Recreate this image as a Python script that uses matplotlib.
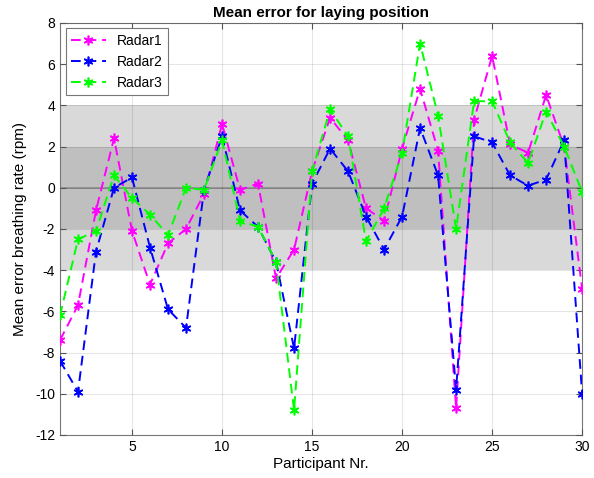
import numpy as np
import matplotlib.pyplot as plt

plt.rcParams['font.family'] = ['Liberation Sans', 'DejaVu Sans']
plt.rcParams['axes.unicode_minus'] = False

# data
participants = np.arange(1, 31)
radar1 = [-7.4, -5.7, -1.1, 2.4, -2.1, -4.7, -2.7, -2.0, -0.3, 3.1,
          -0.1, 0.2, -4.4, -3.0, 0.8, 3.4, 2.3, -1.0, -1.6, 1.9,
          4.8, 1.8, -10.7, 3.3, 6.4, 2.1, 1.7, 4.5, 2.0, -4.9]
radar2 = [-8.4, -9.9, -3.1, 0.0, 0.5, -2.9, -5.9, -6.8, -0.1, 2.5,
          -1.1, -1.9, -3.6, -7.8, 0.2, 1.9, 0.8, -1.4, -3.0, -1.4,
          2.9, 0.6, -9.8, 2.5, 2.2, 0.6, 0.1, 0.4, 2.3, -10.0]
radar3 = [-6.2, -2.5, -2.1, 0.6, -0.5, -1.3, -2.3, 0.0, -0.1, 2.3,
          -1.6, -1.9, -3.6, -10.8, 0.8, 3.8, 2.5, -2.6, -1.0, 1.7,
          7.0, 3.5, -2.0, 4.2, 4.2, 2.2, 1.2, 3.7, 2.0, -0.2]
series = [('Radar1', radar1, '#ff00ff'),
          ('Radar2', radar2, '#0000ff'),
          ('Radar3', radar3, '#00ff00')]

fig = plt.figure(figsize=(5.94, 4.78), dpi=100)
ax = fig.add_axes([0.101, 0.09, 0.879, 0.862])

# tolerance bands
ax.axhspan(-4, 4, color='#d9d9d9', zorder=0, lw=0)
ax.axhspan(-2, 2, color='#bfbfbf', zorder=0.5, lw=0)
ax.axhline(0, color='#8c8c8c', lw=1.2, zorder=1)

for name, vals, col in series:
    ax.plot(participants, vals, '--', color=col, lw=1.4, dashes=(5, 3),
            marker=(6, 2, 0), markersize=7, markeredgewidth=1.2,
            label=name, zorder=3)

ax.set_xlim(1, 30)
ax.set_ylim(-12, 8)
ax.set_xticks([5, 10, 15, 20, 25, 30])
ax.set_yticks(np.arange(-12, 9, 2))
ax.grid(True, color='#000000', alpha=0.1, lw=0.8, zorder=1)
ax.set_axisbelow(False)
ax.tick_params(direction='in', length=4, labelsize=10, color='#555555',
               top=True, right=True)
for s in ax.spines.values():
    s.set_color('#777777')
    s.set_linewidth(0.8)

ax.set_title('Mean error for laying position', fontsize=11, fontweight='bold', pad=4)
ax.set_xlabel('Participant Nr.', fontsize=11, labelpad=2)
ax.set_ylabel('Mean error breathing rate (rpm)', fontsize=11, labelpad=6)

leg = ax.legend(loc='upper left', fontsize=10, fancybox=False, framealpha=1,
                edgecolor='#777777', handlelength=2.5, borderaxespad=0.4)
leg.get_frame().set_linewidth(0.8)

fig.savefig('out.png', dpi=100)
